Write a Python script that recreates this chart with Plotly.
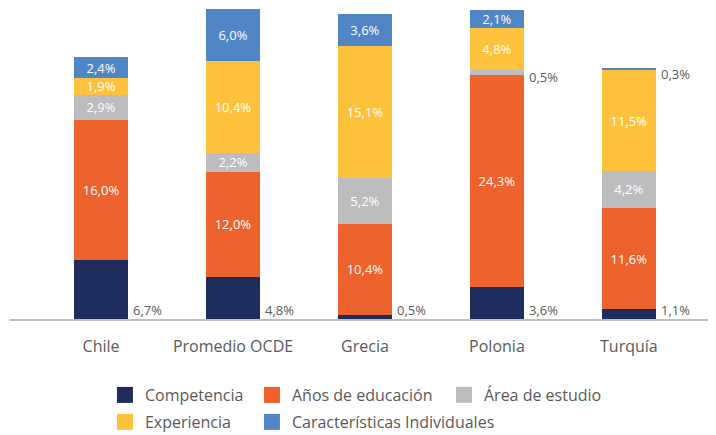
import plotly.graph_objects as go

categories = ["Chile", "Promedio OCDE", "Grecia", "Polonia", "Turquía"]
competencia = [6.7, 4.8, 0.5, 3.6, 1.1]
anos_educacion = [16.0, 12.0, 10.4, 24.3, 11.6]
area_estudio = [2.9, 2.2, 5.2, 0.5, 4.2]
experiencia = [1.9, 10.4, 15.1, 4.8, 11.5]
caracteristicas = [2.4, 6.0, 3.6, 2.1, 0.3]

series_names = ["Competencia", "Años de educación", "Área de estudio",
                "Experiencia", "Características Individuales"]
series_values = [competencia, anos_educacion, area_estudio, experiencia, caracteristicas]
colors = ["#1F2D5C", "#EE622D", "#BDBDC0", "#FFC23C", "#5086C5"]

FONT = "Open Sans"
GREY = "#595959"


def fmt(v):
    return f"{v:.1f}%".replace(".", ",")


fig = go.Figure()
annotations = []
cum = [0.0] * len(categories)
for i, (name, vals, col) in enumerate(zip(series_names, series_values, colors)):
    texts = []
    for j, v in enumerate(vals):
        if i == 0:
            texts.append("")
            annotations.append(dict(x=categories[j], y=0, xref="x", yref="y",
                                    text=fmt(v), showarrow=False, xanchor="left",
                                    yanchor="bottom", xshift=30, yshift=-2,
                                    font=dict(family=FONT, size=13, color=GREY)))
        elif v < 1:
            texts.append("")
            annotations.append(dict(x=categories[j], y=cum[j] + v / 2, xref="x", yref="y",
                                    text=fmt(v), showarrow=False, xanchor="left",
                                    yanchor="middle", xshift=30, yshift=-5,
                                    font=dict(family=FONT, size=13, color=GREY)))
        else:
            texts.append(fmt(v))
        cum[j] += v
    fig.add_trace(go.Bar(
        x=categories, y=vals, name=name, marker=dict(color=col, line=dict(width=0)),
        text=texts, textposition="inside", insidetextanchor="middle",
        textangle=0, constraintext="none",
        textfont=dict(family=FONT, size=13, color="white"),
        width=0.41, hoverinfo="skip", showlegend=False,
    ))

# legend entries, one small legend per entry, laid out in two rows / three columns
legend_ids = ["legend", "legend2", "legend3", "legend4", "legend5"]
for name, col, lg in zip(series_names, colors, legend_ids):
    fig.add_trace(go.Scatter(
        x=[None], y=[None], mode="markers", name=name, legend=lg,
        marker=dict(symbol="square", size=16, color=col), hoverinfo="skip",
    ))

legend_common = dict(orientation="v", yanchor="top", xanchor="left", yref="container",
                     font=dict(family=FONT, size=16, color=GREY), traceorder="normal",
                     itemclick=False, itemdoubleclick=False, tracegroupgap=0,
                     bgcolor="rgba(0,0,0,0)")
col_x = [0.1345, 0.3427, 0.6147]
row_y = [0.1335, 0.0703]

fig.update_layout(
    width=708, height=427,
    margin=dict(l=2, r=0, t=0, b=116),
    barmode="stack",
    plot_bgcolor="white", paper_bgcolor="white",
    separators=",.",
    font=dict(family=FONT, color=GREY),
    xaxis=dict(range=[-0.69, 4.66], showline=True, linecolor="#BFBFBF", linewidth=1.5,
               ticks="", tickfont=dict(family=FONT, size=16, color=GREY),
               ticklabelstandoff=12,
               showgrid=False, zeroline=False, fixedrange=True),
    yaxis=dict(range=[0, 35.5], visible=False, showgrid=False, zeroline=False),
    annotations=annotations,
    legend=dict(x=col_x[0], y=row_y[0], **legend_common),
    legend2=dict(x=col_x[1], y=row_y[0], **legend_common),
    legend3=dict(x=col_x[2], y=row_y[0], **legend_common),
    legend4=dict(x=col_x[0], y=row_y[1], **legend_common),
    legend5=dict(x=col_x[1], y=row_y[1], **legend_common),
)

fig.write_html("out.html")
